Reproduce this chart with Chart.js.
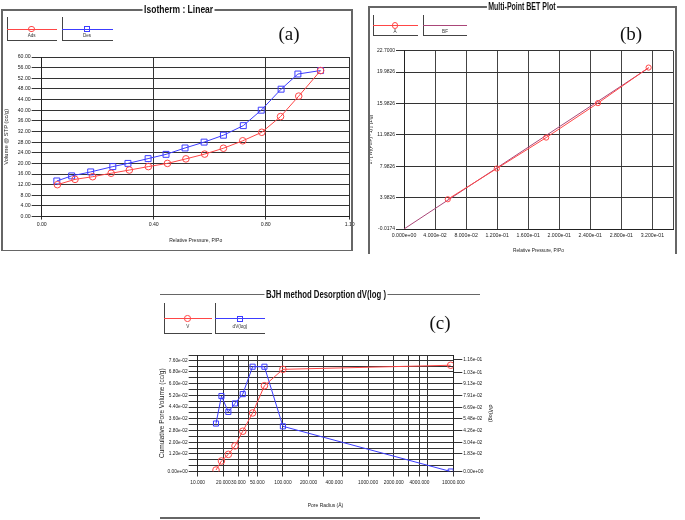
<!DOCTYPE html>
<html><head><meta charset="utf-8">
<script src="https://cdn.jsdelivr.net/npm/chart.js@4.4.1/dist/chart.umd.min.js"></script>
<style>
html,body{margin:0;padding:0;background:#fff}
body{width:685px;height:520px;position:relative;overflow:hidden;font-family:"Liberation Sans",Arial,sans-serif;color:#222}
.cv{position:absolute}
.ln{position:absolute;background:#555}
.ttl{position:absolute;background:#fff;font-weight:bold;font-size:11px;line-height:11px;padding:0 2px;white-space:nowrap;color:#111}
.plab{position:absolute;font-family:"Liberation Serif","Times New Roman",serif;font-size:19px;line-height:19px;color:#111;transform:translate(-50%,-50%)}
.lgtxt{position:absolute;font-size:4.6px;line-height:5px;transform:translate(-50%,-50%);white-space:nowrap;color:#333}
</style>
</head><body>
<canvas id="ca" class="cv" width="360" height="255" style="left:0;top:0;width:360px;height:255px"></canvas>
<canvas id="cb" class="cv" width="315" height="255" style="left:365px;top:0;width:315px;height:255px"></canvas>
<canvas id="cc" class="cv" width="344" height="225" style="left:156px;top:290px;width:344px;height:225px"></canvas>
<script>
// ---------- data ----------
// (a) Isotherm
const adsP=[0.056,0.119,0.182,0.248,0.313,0.381,0.449,0.515,0.582,0.649,0.718,0.786,0.853,0.918,0.996];
const adsV=[12.0,14.0,15.0,16.3,17.5,18.8,20.0,21.7,23.5,25.7,28.5,31.7,37.6,45.3,54.9];
const desP=[0.054,0.107,0.175,0.254,0.308,0.380,0.444,0.512,0.580,0.649,0.720,0.784,0.855,0.915,0.996];
const desV=[13.4,15.3,16.8,18.8,20.0,21.8,23.4,25.8,28.0,30.6,34.2,40.0,47.9,53.6,54.9];
const aXTicks=[0,0.4,0.8,1.1];
const aYTicks=[0,4,8,12,16,20,24,28,32,36,40,44,48,52,56,60];
// (b) Multi-point BET
const betP=[0.0564,0.1196,0.1832,0.2499,0.3152];
const betY=[3.77,7.69,11.63,16.02,20.55];
const bfP=[0,0.3152];
const bfY=[-0.0174,20.5];
const bXTicks=[0,0.04,0.08,0.12,0.16,0.20,0.24,0.28,0.32,0.3466];
const bXLabelled=[0,0.04,0.08,0.12,0.16,0.20,0.24,0.28,0.32];
const bYTicks=[-0.0174,3.9826,7.9826,11.9826,15.9826,19.9826,22.7];
// (c) BJH desorption
const poreR=[16.4,19.0,22.9,27.4,33.8,44.1,60.7,100,9320];
const cumV=[0.001,0.0072,0.0117,0.0175,0.0275,0.040,0.0586,0.0698,0.0726];
const dVlog=[0.0499,0.0785,0.062,0.0708,0.0805,0.109,0.109,0.047,0.0];
const cXTicks=[10,20,30,40,50,100,200,300,400,500,1000,2000,3000,4000,5000,10000];
const cXLabelled=[10,20,30,50,100,200,400,1000,2000,4000,10000];
const cXNoGrid=[400];
const cYStep=0.004, cYCount=20, cYMax=0.0796;
const cYLabelledIdx=[0,3,5,7,9,11,13,15,17,19];
const cY1Ticks=[0,0.0183,0.0304,0.0426,0.0548,0.0669,0.0791,0.0913,0.103,0.116];
const cRatio=1.5225;

const RED='rgb(255,70,70)', BLUE='rgb(60,60,255)', PURP='rgb(170,70,120)';

// ---------- helpers ----------
Chart.defaults.font.family='"Liberation Sans", Arial, sans-serif';
Chart.defaults.color='#222';
function fixW(w){return s=>{s.width=w;};}
function fixH(h){return s=>{s.height=h;};}
function setTicks(arr){return s=>{s.ticks=arr.map(v=>({value:v}));};}
function near(a,v){return a.some(x=>Math.abs(x-v)<1e-9*Math.max(1,Math.abs(v)));}
function fmtExp(v,d){
  if(Math.abs(v)<1e-15) return (0).toFixed(d)+'e+00';
  let e=Math.floor(Math.log10(Math.abs(v)));
  let m=v/Math.pow(10,e);
  if(Math.abs(+m.toFixed(d))>=10){m/=10;e+=1;}
  return m.toFixed(d)+'e'+(e<0?'-':'+')+String(Math.abs(e)).padStart(2,'0');
}
function pts(xs,ys){return xs.map((x,i)=>({x:x,y:ys[i]}));}
const NONE='rgba(0,0,0,0)';
function series(label,xs,ys,color,style,r,extra){
  return Object.assign({label:label,data:pts(xs,ys),showLine:true,borderColor:color,backgroundColor:NONE,
    pointBorderColor:color,pointBackgroundColor:NONE,pointStyle:style,pointRadius:r,pointHoverRadius:r,
    borderWidth:1,pointBorderWidth:1},extra||{});
}
const common={responsive:false,animation:false,events:[],plugins:{legend:{display:false},tooltip:{enabled:false}}};

// ---------- (a) ----------
new Chart(document.getElementById('ca'),{
  type:'scatter',
  data:{datasets:[series('Ads',adsP,adsV,RED,'circle',3.3),series('Des',desP,desV,BLUE,'rect',4.2)]},
  options:Object.assign({},common,{
    layout:{padding:{left:1.7,top:57,right:10.3,bottom:0}},
    scales:{
      x:{type:'linear',min:0,max:1.1,afterBuildTicks:setTicks(aXTicks),afterFit:fixH(38.4),
        ticks:{callback:v=>v.toFixed(2),font:{size:5.2},padding:2,maxRotation:0,autoSkip:false},
        grid:{color:'#333',tickLength:3},border:{color:'#222'},
        title:{display:true,text:'Relative Pressure, P/Po',font:{size:5},padding:{bottom:11.4}}},
      y:{type:'linear',min:0,max:60,afterBuildTicks:setTicks(aYTicks),afterFit:fixW(40),
        ticks:{callback:v=>v.toFixed(2),font:{size:5.2},padding:1,autoSkip:false},
        grid:{color:'#333',tickLength:10},border:{color:'#222'},
        title:{display:true,text:'Volume @ STP (cc/g)',font:{size:5.8},padding:{top:1.4}}}
    }})
});

// ---------- (b) ----------
new Chart(document.getElementById('cb'),{
  type:'scatter',
  data:{datasets:[
    series('A',betP,betY,RED,'circle',2.6),
    series('BF',bfP,bfY,PURP,'circle',0)
  ]},
  options:Object.assign({},common,{
    layout:{padding:{left:0,top:50.7,right:7,bottom:0}},
    scales:{
      x:{type:'linear',min:0,max:0.3466,afterBuildTicks:setTicks(bXTicks),afterFit:fixH(26),
        ticks:{callback:v=>near(bXLabelled,v)?fmtExp(v,3):'',font:{size:5.2},padding:3,maxRotation:0,autoSkip:false},
        grid:{color:'#444',tickLength:0},border:{color:'#222'},
        title:{display:true,text:'Relative Pressure, P/Po',font:{size:4.8},padding:{bottom:1.4}}},
      y:{type:'linear',min:-0.0174,max:22.7,afterBuildTicks:setTicks(bYTicks),afterFit:fixW(39),
        ticks:{callback:v=>v.toFixed(4),font:{size:5},padding:1,autoSkip:false},
        grid:{color:'#333',tickLength:8},border:{color:'#222'},
        title:{display:true,text:'1 / [ W((Po/P) - 1) ]  [1/g]',font:{size:4.5},padding:{top:3.4}}}
    }})
});

// ---------- (c) ----------
const cYTicks=[];for(let i=0;i<cYCount;i++)cYTicks.push(+(i*cYStep).toFixed(4));cYTicks.push(cYMax);
new Chart(document.getElementById('cc'),{
  type:'scatter',
  data:{datasets:[
    series('V',poreR,cumV,RED,'circle',3.3,{yAxisID:'y'}),
    series('dV(log)',poreR,dVlog,BLUE,'rect',3.6,{yAxisID:'y1'})
  ]},
  options:Object.assign({},common,{
    layout:{padding:{left:0,top:65,right:0,bottom:0}},
    scales:{
      x:{type:'logarithmic',min:10,max:10000,afterBuildTicks:setTicks(cXTicks),afterFit:fixH(43.5),
        ticks:{callback:v=>near(cXLabelled,v)?v.toFixed(3):'',font:{size:4.8},padding:3,maxRotation:0,autoSkip:false},
        grid:{color:ctx=>(ctx.tick&&near(cXNoGrid,ctx.tick.value))?NONE:'#333',tickLength:5},border:{color:'#222'},
        title:{display:true,text:'Pore Radius (Å)',font:{size:5},padding:{bottom:6.4}}},
      y:{type:'linear',position:'left',min:0,max:cYMax,afterBuildTicks:setTicks(cYTicks),afterFit:fixW(41.7),
        ticks:{callback:(v,i)=>near(cYLabelledIdx.map(k=>k*cYStep),v)?fmtExp(v,2):'',font:{size:4.8},padding:1,autoSkip:false},
        grid:{color:'#333',tickLength:9},border:{color:'#222'},
        title:{display:true,text:'Cumulative Pore Volume (cc/g)',font:{size:6.5},padding:{top:2}}},
      y1:{type:'linear',position:'right',min:0,max:cYMax*cRatio,afterBuildTicks:setTicks(cY1Ticks),afterFit:fixW(46.7),
        ticks:{callback:v=>fmtExp(v,2),font:{size:4.8},padding:1,autoSkip:false},
        grid:{color:'#333',tickLength:9,drawOnChartArea:false},border:{color:'#222'},
        title:{display:true,text:'dV(log)',font:{size:5.5},padding:{top:6}}}
    }})
});

// ---------- frames, titles, legends, panel labels (HTML) ----------
function line(x,y,w,h,c){const d=document.createElement('div');d.className='ln';
  d.style.cssText+=`left:${x}px;top:${y}px;width:${w}px;height:${h}px;`+(c?`background:${c};`:'');document.body.appendChild(d);return d;}
function text(cls,x,y,t,extra){const d=document.createElement('div');d.className=cls;d.textContent=t;
  d.style.left=x+'px';d.style.top=y+'px';if(extra)d.style.cssText+=extra;document.body.appendChild(d);return d;}
function title(cx,cy,t,targetW){const d=text('ttl',0,0,t);const w=d.offsetWidth;const s=targetW/w;
  d.style.left=(cx-w/2)+'px';d.style.top=(cy-5.5)+'px';d.style.transform=`scaleX(${s})`;}
function legend(top,h,items){
  items.forEach(it=>{
    line(it.x,top,1,h,'#444');
    line(it.x,top+h,it.w,1,'#444');
    line(it.x,top+h*0.5,it.w,1,it.color);
    const m=document.createElement('div');
    const sz=it.marker==='rect'?6:6.5;
    m.style.cssText=`position:absolute;box-sizing:border-box;width:${sz}px;height:${sz}px;left:${it.mx-sz/2}px;top:${top+h*0.5+0.5-sz/2}px;border:1px solid ${it.color};`+(it.marker==='circle'?'border-radius:50%;':'');
    if(it.marker) document.body.appendChild(m);
    text('lgtxt',it.mx,top+h*0.78,it.label);
  });
}
// (a)
line(1,9,351,1.5,'#666');line(1,9,1.5,242,'#666');line(351,9,1.5,242,'#666');line(1,249.5,351.5,1.5,'#666');
title(178,9,'Isotherm :  Linear',72);
legend(17,23,[{x:7,w:50,color:RED,marker:'circle',mx:31.7,label:'Ads'},{x:62,w:51,color:BLUE,marker:'rect',mx:87,label:'Des'}]);
text('plab',289,33,'(a)');
// (b)
line(368,6,308,1.5,'#666');line(368,6,1.5,248,'#666');line(675,6,1.5,248,'#666');
title(522,6,'Multi-Point BET Plot',70);
legend(15,20,[{x:373,w:45,color:RED,marker:'circle',mx:395,label:'A'},{x:423,w:44,color:PURP,marker:null,mx:445,label:'BF'}]);
text('plab',631,33,'(b)');
// (c)
line(160,294,320,1.2,'#666');line(160,517,320,1.5,'#666');
title(326,294,'BJH method Desorption  dV(log )',123);
legend(303,30,[{x:164,w:48,color:RED,marker:'circle',mx:187.7,label:'V'},{x:215,w:50,color:BLUE,marker:'rect',mx:240,label:'dV(log)'}]);
text('plab',440,322,'(c)');
</script>
</body></html>
